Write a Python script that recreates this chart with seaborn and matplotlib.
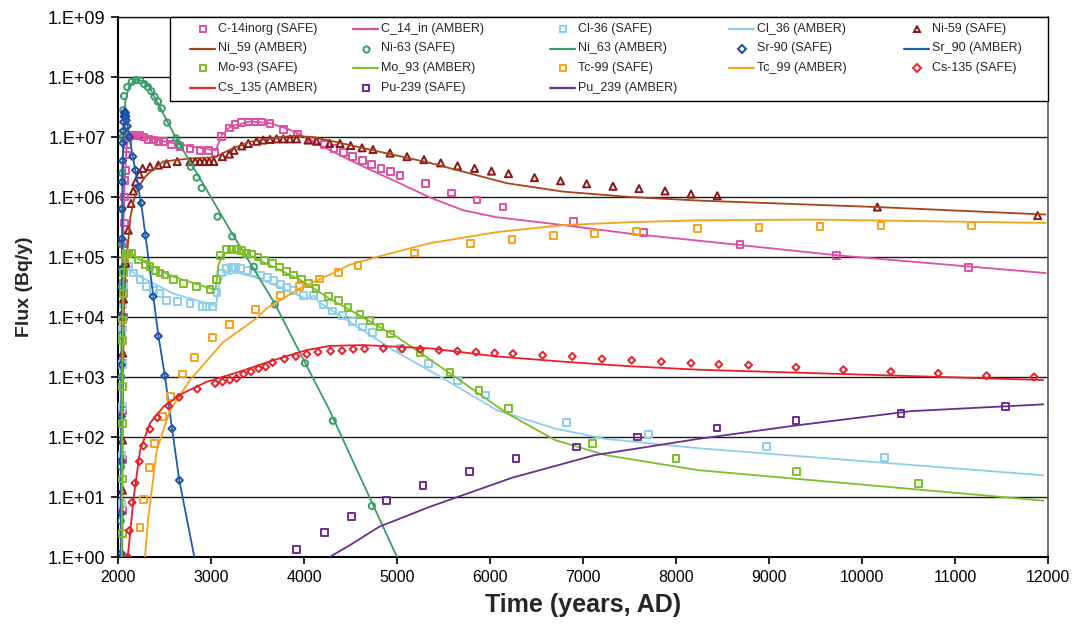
import matplotlib
matplotlib.use("Agg")
import matplotlib.pyplot as plt
from matplotlib.lines import Line2D
from matplotlib.patches import Rectangle
from matplotlib.ticker import FixedLocator, FuncFormatter, NullLocator
import numpy as np
import seaborn as sns

# ---------------- C-14 (inorganic) ----------------
c14_safe_years = [2045, 2047, 2049, 2051, 2055, 2058, 2060, 2063, 2066, 2070, 2075, 2080, 2090, 2100,
                  2115, 2140, 2183, 2230, 2273, 2327, 2380, 2434, 2488, 2577, 2667, 2774, 2881, 2971,
                  3043, 3115, 3197, 3258, 3330, 3401, 3473, 3545, 3634, 3777, 3927, 4082, 4224, 4323,
                  4423, 4523, 4627, 4727, 4828, 4928, 5032, 5308, 5584, 5860, 6140, 6896, 7652, 8688,
                  9727, 11143]
c14_safe_flux = [6.0e0, 4.2e1, 2.8e2, 1.7e3, 1.0e4, 3.7e4, 6.3e4, 1.7e5, 3.7e5, 1.0e6, 1.9e6, 2.8e6, 5.0e6, 7.4e6,
                 1.0e7, 1.07e7, 1.05e7, 1.05e7, 1.0e7, 9.1e6, 8.9e6, 8.5e6, 8.3e6, 7.4e6, 6.9e6, 6.5e6, 6.0e6, 5.9e6,
                 5.6e6, 1.02e7, 1.41e7, 1.62e7, 1.74e7, 1.78e7, 1.78e7, 1.78e7, 1.66e7, 1.32e7, 1.12e7, 8.9e6, 7.6e6, 6.5e6,
                 5.6e6, 4.7e6, 4.1e6, 3.5e6, 3.0e6, 2.7e6, 2.3e6, 1.66e6, 1.17e6, 8.9e5, 6.8e5, 3.9e5, 2.6e5, 1.62e5,
                 1.07e5, 6.6e4]
c14_amber_years = [2030, 2040, 2050, 2060, 2075, 2090, 2113, 2237, 2595, 3050, 3070, 3115, 3205, 3420, 3635,
                   3850, 4050, 4280, 4640, 5000, 5355, 5713, 6072, 6789, 7505, 8258, 9727, 11975]
c14_amber_flux = [1.0e0, 3.2e2, 3.2e4, 4.0e5, 2.5e6, 6.3e6, 1.07e7, 1.05e7, 7.8e6, 6.0e6, 7.1e6, 1.07e7, 1.48e7, 1.82e7, 1.70e7,
                  1.32e7, 9.3e6, 6.0e6, 3.2e6, 1.78e6, 9.8e5, 6.0e5, 4.6e5, 3.4e5, 2.45e5, 1.86e5, 1.07e5, 5.4e4]

# ---------------- Cl-36 ----------------
cl36_safe_years = [2042, 2044, 2046, 2048, 2050, 2053, 2058, 2065, 2080, 2113, 2165, 2237, 2310, 2380, 2450,
                   2520, 2637, 2774, 2906, 2955, 3015, 3065, 3112, 3165, 3220, 3265, 3315, 3390, 3460, 3535,
                   3605, 3675, 3750, 3815, 3890, 3998, 4100, 4210, 4310, 4418, 4522, 4630, 4734, 5039, 5343,
                   5649, 5949, 6820, 7700, 8970, 10240]
cl36_safe_flux = [7.9e0, 5.0e1, 3.2e2, 1.6e3, 6.3e3, 1.6e4, 3.2e4, 5.6e4, 6.9e4, 6.9e4, 5.4e4, 4.2e4, 3.2e4, 2.8e4, 2.5e4,
                  1.9e4, 1.8e4, 1.66e4, 1.51e4, 1.48e4, 1.48e4, 2.6e4, 5.4e4, 6.5e4, 6.6e4, 6.6e4, 6.5e4, 6.0e4, 5.5e4, 5.0e4,
                  4.6e4, 4.0e4, 3.5e4, 3.1e4, 2.75e4, 2.3e4, 2.3e4, 1.6e4, 1.26e4, 1.05e4, 8.5e3, 6.8e3, 5.6e3, 3.0e3, 1.66e3,
                  8.7e2, 5.0e2, 1.74e2, 1.10e2, 6.9e1, 4.6e1]
cl36_amber_years = [2040, 2043, 2046, 2050, 2055, 2063, 2070, 2100, 2237, 2595, 3025, 3055, 3080, 3130, 3275,
                    3455, 3775, 4025, 4090, 4110, 4150, 4490, 4996, 5462, 6072, 6700, 7240, 8240, 11950]
cl36_amber_flux = [1.0e0, 3.2e1, 1.0e3, 7.9e3, 2.5e4, 5.6e4, 7.8e4, 6.3e4, 4.7e4, 2.45e4, 1.58e4, 1.51e4, 3.2e4, 5.0e4, 5.5e4,
                   4.7e4, 3.0e4, 2.0e4, 2.2e4, 2.3e4, 1.82e4, 8.3e3, 2.6e3, 1.02e3, 2.8e2, 1.38e2, 9.3e1, 6.5e1, 2.3e1]

# ---------------- Ni-59 ----------------
ni59_safe_years = [2048, 2049, 2051, 2060, 2085, 2110, 2140, 2165, 2190, 2230, 2265, 2344, 2433, 2523, 2637,
                   2774, 2830, 2880, 2930, 2980, 3030, 3122, 3197, 3247, 3330, 3401, 3490, 3561, 3634, 3705,
                   3777, 3848, 3920, 4045, 4134, 4275, 4387, 4502, 4624, 4742, 4925, 5108, 5290, 5470, 5651,
                   5834, 6016, 6199, 6479, 6759, 7039, 7323, 7602, 7882, 8161, 8444, 10165, 11889]
ni59_safe_flux = [1.3e1, 8.9e1, 2.5e3, 2.0e4, 7.9e4, 2.8e5, 7.8e5, 1.26e6, 1.78e6, 2.4e6, 3.0e6, 3.2e6, 3.4e6, 3.6e6, 3.9e6,
                  3.9e6, 3.9e6, 3.9e6, 3.9e6, 3.9e6, 3.9e6, 4.7e6, 5.2e6, 6.0e6, 7.1e6, 7.8e6, 8.5e6, 8.9e6, 9.1e6, 9.3e6,
                  9.3e6, 9.3e6, 9.3e6, 8.9e6, 8.5e6, 7.8e6, 7.8e6, 7.2e6, 6.6e6, 6.2e6, 5.4e6, 4.7e6, 4.2e6, 3.7e6, 3.3e6,
                  3.0e6, 2.7e6, 2.45e6, 2.1e6, 1.86e6, 1.66e6, 1.51e6, 1.38e6, 1.26e6, 1.12e6, 1.05e6, 6.8e5, 4.9e5]
ni59_amber_years = [2045, 2048, 2050, 2055, 2065, 2085, 2109, 2134, 2170, 2224, 2295, 2367, 2488, 2774, 3050,
                    3130, 3237, 3416, 3702, 3917, 4100, 4280, 4745, 5355, 6179, 6785, 7505, 8258, 10165, 11975]
ni59_amber_flux = [1.0e0, 1.0e1, 1.0e2, 1.6e3, 1.6e4, 7.9e4, 1.7e5, 4.7e5, 8.9e5, 1.48e6, 2.2e6, 2.8e6, 3.9e6, 4.4e6, 4.6e6,
                   5.4e6, 6.5e6, 8.3e6, 9.8e6, 1.05e7, 9.8e6, 8.7e6, 6.0e6, 3.7e6, 1.7e6, 1.23e6, 1.0e6, 8.7e5, 6.8e5, 5.1e5]

# ---------------- Ni-63 ----------------
ni63_safe_years = [2030, 2033, 2036, 2038, 2040, 2042, 2045, 2048, 2052, 2057, 2065, 2100, 2148, 2195, 2240,
                   2283, 2322, 2358, 2393, 2430, 2470, 2530, 2625, 2660, 2782, 2846, 2900, 3070, 3228, 3460,
                   3688, 4010, 4310, 4730]
ni63_safe_flux = [4.0e0, 3.2e1, 1.0e3, 5.0e3, 3.2e4, 1.6e5, 6.3e5, 2.5e6, 1.0e7, 2.8e7, 4.8e7, 6.8e7, 8.3e7, 8.9e7, 8.7e7,
                  7.6e7, 6.8e7, 5.8e7, 4.7e7, 3.9e7, 3.0e7, 1.74e7, 9.5e6, 7.4e6, 3.2e6, 2.1e6, 1.41e6, 4.7e5, 2.2e5, 6.9e4,
                  1.62e4, 1.7e3, 1.86e2, 7.1e0]
ni63_amber_years = [2030, 2035, 2040, 2045, 2050, 2060, 2080, 2120, 2200, 2325, 2625, 2900, 3218, 3683, 4274,
                    5000, 5050]
ni63_amber_flux = [1.0e0, 3.2e1, 3.2e3, 1.0e5, 1.6e6, 1.6e7, 4.0e7, 7.1e7, 9.5e7, 7.4e7, 9.5e6, 1.82e6, 2.6e5, 1.7e4, 2.8e2,
                   1.0e0, 6.8e-1]

# ---------------- Sr-90 ----------------
sr90_safe_years = [2035, 2036, 2036, 2037, 2038, 2038, 2040, 2042, 2044, 2046, 2049, 2052, 2056, 2060, 2065,
                   2070, 2075, 2080, 2085, 2090, 2100, 2123, 2159, 2188, 2224, 2252, 2295, 2377, 2433, 2503,
                   2580, 2660]
sr90_safe_flux = [1.15e0, 5.4e0, 4.0e1, 2.2e2, 1.6e3, 1.07e4, 6.3e4, 2.0e5, 6.3e5, 1.78e6, 4.0e6, 7.9e6, 1.26e7, 1.78e7, 2.2e7,
                  2.5e7, 2.6e7, 2.5e7, 2.2e7, 1.9e7, 1.51e7, 1.0e7, 4.7e6, 2.8e6, 1.48e6, 7.9e5, 2.3e5, 2.2e4, 4.8e3, 1.05e3,
                  1.38e2, 1.9e1]
sr90_amber_years = [2030, 2035, 2040, 2045, 2050, 2060, 2070, 2078, 2090, 2123, 2152, 2206, 2259, 2295, 2434,
                    2506, 2578, 2659, 2817, 2830]
sr90_amber_flux = [1.0e0, 1.0e2, 1.0e4, 3.2e5, 3.2e6, 1.26e7, 2.2e7, 2.6e7, 2.1e7, 1.0e7, 5.4e6, 1.9e6, 6.0e5, 2.3e5, 4.9e3,
                   1.0e3, 1.48e2, 1.9e1, 1.07e0, 8.0e-1]

# ---------------- Mo-93 ----------------
mo93_safe_years = [2045, 2046, 2047, 2048, 2050, 2052, 2056, 2062, 2075, 2095, 2113, 2148, 2219, 2290, 2344,
                   2400, 2451, 2505, 2595, 2702, 2846, 2989, 3060, 3105, 3165, 3220, 3273, 3326, 3380, 3434,
                   3505, 3577, 3658, 3738, 3816, 3891, 3970, 4048, 4130, 4265, 4370, 4474, 4602, 4710, 4817,
                   4932, 5247, 5570, 5882, 6201, 7100, 8000, 9300, 10610]
mo93_safe_flux = [2.45e0, 2.0e1, 1.7e2, 6.9e2, 4.1e3, 8.9e3, 2.5e4, 5.6e4, 9.5e4, 1.15e5, 1.15e5, 1.17e5, 8.9e4, 7.6e4, 6.9e4,
                  6.0e4, 5.4e4, 5.0e4, 4.2e4, 3.6e4, 3.2e4, 2.9e4, 4.2e4, 1.07e5, 1.32e5, 1.35e5, 1.35e5, 1.29e5, 1.15e5, 1.12e5,
                  1.0e5, 8.7e4, 7.8e4, 6.8e4, 5.8e4, 5.0e4, 4.3e4, 3.6e4, 3.0e4, 2.2e4, 1.86e4, 1.45e4, 1.10e4, 8.7e3, 6.8e3,
                  5.2e3, 2.6e3, 1.2e3, 5.9e2, 3.0e2, 7.9e1, 4.4e1, 2.7e1, 1.7e1]
mo93_amber_years = [2040, 2042, 2044, 2047, 2050, 2055, 2065, 2085, 2113, 2237, 2595, 3025, 3050, 3080, 3130,
                    3237, 3416, 3595, 3955, 4280, 4490, 4996, 5570, 6179, 6700, 7240, 8240, 11950]
mo93_amber_flux = [1.0e0, 1.0e1, 1.0e2, 1.0e3, 6.3e3, 2.5e4, 6.3e4, 1.05e5, 1.23e5, 8.9e4, 4.7e4, 2.9e4, 2.95e4, 7.4e4, 1.12e5,
                   1.26e5, 1.07e5, 7.8e4, 4.2e4, 2.0e4, 1.32e4, 4.7e3, 1.15e3, 2.5e2, 8.9e1, 5.0e1, 2.8e1, 8.7e0]

# ---------------- Tc-99 ----------------
tc99_safe_years = [2237, 2273, 2337, 2390, 2480, 2566, 2694, 2820, 3013, 3195, 3478, 3748, 3955, 4165, 4372,
                   4581, 5186, 5788, 6237, 6681, 7126, 7573, 8233, 8892, 9548, 10204, 11175]
tc99_safe_flux = [3.1e0, 9.1e0, 3.1e1, 7.8e1, 2.2e2, 4.7e2, 1.12e3, 2.1e3, 4.5e3, 7.4e3, 1.35e4, 2.3e4, 3.2e4, 4.3e4, 5.5e4,
                  7.2e4, 1.17e5, 1.66e5, 1.95e5, 2.3e5, 2.5e5, 2.7e5, 2.95e5, 3.1e5, 3.2e5, 3.4e5, 3.4e5]
tc99_amber_years = [2290, 2327, 2417, 2560, 2774, 3130, 3490, 3595, 3955, 4280, 4490, 4781, 5355, 6072, 6789,
                    7505, 8258, 9500, 11975]
tc99_amber_flux = [1.0e0, 4.7e0, 6.0e1, 2.8e2, 8.9e2, 3.8e3, 9.5e3, 1.38e4, 3.0e4, 5.1e4, 7.4e4, 1.0e5, 1.7e5, 2.6e5, 3.4e5,
                   3.8e5, 4.1e5, 4.2e5, 3.7e5]

# ---------------- Cs-135 ----------------
cs135_safe_years = [2105, 2123, 2150, 2183, 2230, 2273, 2344, 2423, 2544, 2657, 2852, 3045, 3124, 3202, 3275,
                    3350, 3430, 3512, 3588, 3662, 3790, 3912, 4030, 4150, 4286, 4409, 4530, 4652, 4853, 5054,
                    5251, 5452, 5649, 5849, 6050, 6247, 6566, 6885, 7204, 7523, 7842, 8161, 8460, 8780, 9290,
                    9800, 10310, 10820, 11340, 11850]
cs135_safe_flux = [1.0e0, 2.75e0, 8.1e0, 1.7e1, 3.9e1, 7.1e1, 1.35e2, 2.1e2, 3.3e2, 4.6e2, 6.3e2, 7.8e2, 8.3e2, 8.9e2, 9.5e2,
                   1.12e3, 1.23e3, 1.38e3, 1.48e3, 1.74e3, 2.0e3, 2.2e3, 2.4e3, 2.6e3, 2.7e3, 2.75e3, 2.9e3, 2.95e3, 3.0e3, 2.95e3,
                   2.9e3, 2.8e3, 2.7e3, 2.6e3, 2.5e3, 2.45e3, 2.3e3, 2.2e3, 2.0e3, 1.9e3, 1.8e3, 1.7e3, 1.62e3, 1.58e3, 1.45e3,
                   1.32e3, 1.23e3, 1.15e3, 1.05e3, 1.0e3]
cs135_amber_years = [2105, 2130, 2165, 2237, 2344, 2488, 2702, 2953, 3310, 3670, 4025, 4280, 4638, 5355, 6072,
                     6789, 7505, 8258, 11950]
cs135_amber_flux = [1.0e0, 2.45e0, 8.9e0, 6.0e1, 1.7e2, 3.2e2, 5.4e2, 8.3e2, 1.23e3, 1.9e3, 2.8e3, 3.3e3, 3.4e3, 3.0e3, 2.2e3,
                    1.8e3, 1.51e3, 1.32e3, 8.9e2]

# ---------------- Pu-239 ----------------
pu239_safe_years = [3922, 4220, 4510, 4890, 5280, 5780, 6280, 6930, 7590, 8440, 9290, 10420, 11540]
pu239_safe_flux = [1.35e0, 2.6e0, 4.8e0, 8.7e0, 1.55e1, 2.7e1, 4.4e1, 6.8e1, 1.0e2, 1.41e2, 1.86e2, 2.5e2, 3.2e2]
pu239_amber_years = [4275, 4495, 4810, 5345, 6240, 7130, 8240, 9280, 10530, 11950]
pu239_amber_flux = [1.0e0, 1.58e0, 3.2e0, 6.8e0, 2.1e1, 5.0e1, 9.3e1, 1.55e2, 2.7e2, 3.5e2]

y_ticks = [1e0, 1e1, 1e2, 1e3, 1e4, 1e5, 1e6, 1e7, 1e8, 1e9]
x_ticks = [2000, 3000, 4000, 5000, 6000, 7000, 8000, 9000, 10000, 11000, 12000]

# label pair, data, marker, marker colour, line colour
nuclides = [
    ("C-14inorg (SAFE)", "C_14_in (AMBER)", c14_safe_years, c14_safe_flux, c14_amber_years, c14_amber_flux,
     "s", "#DE4FA1", "#DE4FA1"),
    ("Cl-36 (SAFE)", "Cl_36 (AMBER)", cl36_safe_years, cl36_safe_flux, cl36_amber_years, cl36_amber_flux,
     "s", "#8CCFEC", "#8CCFEC"),
    ("Ni-59 (SAFE)", "Ni_59 (AMBER)", ni59_safe_years, ni59_safe_flux, ni59_amber_years, ni59_amber_flux,
     "^", "#8B1414", "#A8421C"),
    ("Ni-63 (SAFE)", "Ni_63 (AMBER)", ni63_safe_years, ni63_safe_flux, ni63_amber_years, ni63_amber_flux,
     "o", "#3A9C68", "#3A9C68"),
    ("Sr-90 (SAFE)", "Sr_90 (AMBER)", sr90_safe_years, sr90_safe_flux, sr90_amber_years, sr90_amber_flux,
     "D", "#1A4C9C", "#1E5CB3"),
    ("Mo-93 (SAFE)", "Mo_93 (AMBER)", mo93_safe_years, mo93_safe_flux, mo93_amber_years, mo93_amber_flux,
     "s", "#7DBE2A", "#7DBE2A"),
    ("Tc-99 (SAFE)", "Tc_99 (AMBER)", tc99_safe_years, tc99_safe_flux, tc99_amber_years, tc99_amber_flux,
     "s", "#F7A21B", "#F7A21B"),
    ("Cs-135 (SAFE)", "Cs_135 (AMBER)", cs135_safe_years, cs135_safe_flux, cs135_amber_years, cs135_amber_flux,
     "D", "#E8202A", "#E8202A"),
    ("Pu-239 (SAFE)", "Pu_239 (AMBER)", pu239_safe_years, pu239_safe_flux, pu239_amber_years, pu239_amber_flux,
     "s", "#6B2D8E", "#6B2D8E"),
]

marker_area = {"s": 24, "^": 26, "o": 20, "D": 13}
marker_ms = {"s": 4.6, "^": 5.0, "o": 4.4, "D": 3.6}

sns.set_theme(style="white")
plt.rcParams["font.family"] = ["Liberation Sans", "DejaVu Sans"]

W, H = 1078, 628
fig = plt.figure(figsize=(W / 100, H / 100), dpi=100)
ax = fig.add_axes([118 / W, (H - 557) / H, 930 / W, 540 / H])
ax.set_yscale("log")

entries = []
for i, (lab_s, lab_a, sy, sv, ay, av, mk, mc, lc) in enumerate(nuclides):
    sns.scatterplot(x=sy, y=sv, ax=ax, marker=mk, s=marker_area[mk], color=mc, edgecolor=mc,
                    facecolor="none", linewidth=1.4, zorder=3 + 2 * i, legend=False)
    sns.lineplot(x=ay, y=av, ax=ax, color=lc, linewidth=1.3, estimator=None, sort=False,
                 zorder=4 + 2 * i, legend=False)
    entries.append((lab_s, "marker", mk, mc))
    entries.append((lab_a, "line", None, lc))

ax.set_xlim(2000, 12000)
ax.set_ylim(1, 1e9)

ax.xaxis.set_major_locator(FixedLocator(x_ticks))
ax.xaxis.set_minor_locator(NullLocator())
ax.yaxis.set_major_locator(FixedLocator(y_ticks))
ax.yaxis.set_minor_locator(NullLocator())
ax.yaxis.set_major_formatter(FuncFormatter(lambda v, p: "1.E+%02d" % int(round(np.log10(v)))))
ax.xaxis.set_major_formatter(FuncFormatter(lambda v, p: "%d" % v))

ax.yaxis.grid(True, color="#1a1a1a", linewidth=1.0)
ax.xaxis.grid(False)
ax.set_axisbelow(True)

for side in ("left", "bottom"):
    ax.spines[side].set_color("black")
    ax.spines[side].set_linewidth(1.5)
ax.spines["top"].set_color("#1a1a1a")
ax.spines["top"].set_linewidth(1.0)
ax.spines["right"].set_color("#555555")
ax.spines["right"].set_linewidth(1.2)

ax.tick_params(axis="both", which="major", direction="out", length=5, width=1.2,
               color="black", labelcolor="black", pad=4)
ax.tick_params(axis="x", labelsize=11.5, bottom=True)
ax.tick_params(axis="y", labelsize=13, left=True)

ax.set_xlabel("Time (years, AD)", fontsize=18, fontweight="bold", va="center")
ax.set_ylabel("Flux (Bq/y)", fontsize=14, fontweight="bold", va="center")
ax.xaxis.set_label_coords(0.5, -(605 - 557) / 540)
ax.yaxis.set_label_coords(-(118 - 24) / 930, 0.5)

# Legend box laid out row by row in pixel positions
box_l, box_r, box_t, box_b = 170, 1048, 17, 101
fig.add_artist(Rectangle((box_l / W, 1 - box_b / H), (box_r - box_l) / W, (box_b - box_t) / H,
                         transform=fig.transFigure, facecolor="white", edgecolor="black",
                         linewidth=1.0, zorder=20))
text_x = [218, 381, 578, 757, 932]
row_y = [29, 48.5, 68, 88]
for k, (lab, kind, mk, col) in enumerate(entries):
    r, c = divmod(k, 5)
    tx, ty = text_x[c], row_y[r]
    hx = tx - 15
    if kind == "marker":
        fig.add_artist(Line2D([hx / W], [1 - ty / H], transform=fig.transFigure, ls="none",
                              marker=mk, ms=marker_ms[mk], mfc="none", mec=col, mew=1.4, zorder=21))
    else:
        fig.add_artist(Line2D([(hx - 13) / W, (hx + 12) / W], [1 - ty / H, 1 - ty / H],
                              transform=fig.transFigure, color=col, lw=1.6, zorder=21))
    fig.text(tx / W, 1 - ty / H, lab, fontsize=9, va="center", ha="left", zorder=22)

fig.savefig("out.png", dpi=100)
